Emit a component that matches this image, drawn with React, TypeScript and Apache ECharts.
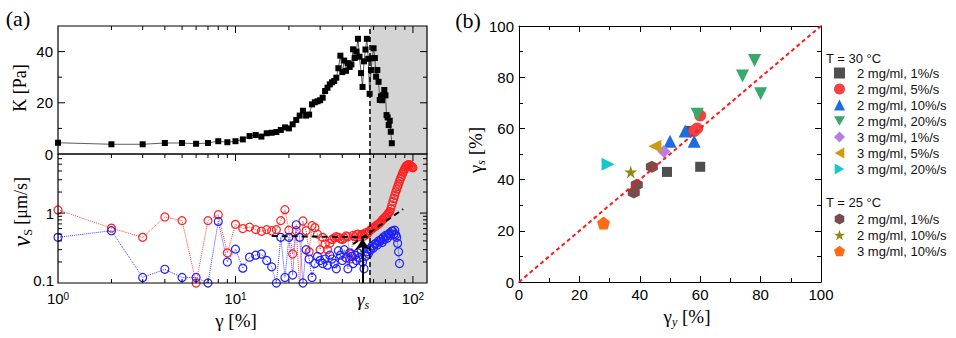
import React, { useEffect, useRef } from 'react';
import * as echarts from 'echarts';

// ---------- Panel (a), top: K vs gamma ----------
const K_GAMMA = [
  1, 2, 3, 4, 5, 6, 7, 8, 9, 10,
  11, 12, 13, 14, 15, 16, 17, 18, 19, 20,
  21, 22, 23, 24, 25, 26, 27, 28, 29, 30,
  31, 32, 33, 34, 35, 36, 37, 38, 39, 40,
  41, 42, 43, 44, 45, 46, 47, 48, 49, 50,
  51, 52, 53, 54, 55, 56, 57, 58, 59, 60,
  61, 62, 63, 64, 65, 66, 67, 68, 69, 70,
  71, 72, 73, 74, 75, 76,
];
const K_VALUES = [
  4.4, 3.8, 3.8, 4.3, 4.3, 4.0, 4.3, 5.0, 4.6, 5.0,
  5.7, 7.0, 7.4, 6.8, 8.1, 8.3, 8.6, 9.4, 10.4, 10.0,
  11.6, 13.3, 15.0, 16.9, 15.0, 15.4, 19.4, 20.2, 20.6, 21.0,
  22.0, 24.6, 25.9, 27.2, 28.0, 28.5, 29.8, 33.5, 38.4, 32.0,
  36.5, 32.5, 35.5, 34.0, 35.0, 40.9, 37.5, 40.0, 45.0, 38.0,
  31.6, 26.2, 36.2, 40.8, 45.0, 37.2, 23.5, 32.8, 37.4, 41.3,
  37.5, 30.2, 32.8, 28.2, 21.1, 22.5, 21.0, 23.0, 25.0, 22.9,
  15.2, 14.3, 11.3, 13.0, 8.7, 4.2,
];

// ---------- Panel (a), bottom: v_S vs gamma ----------
const RED_GAMMA = [
  1, 2, 3, 4, 5, 6, 7, 8, 9, 10,
  11, 12, 13, 14, 15, 16, 17, 18, 19, 20,
  21, 22, 23, 24, 25, 26, 27, 28, 29, 30,
  31, 32, 33, 34, 35, 36, 37, 38, 39, 40,
  41, 42, 43, 44, 45, 46, 47, 48, 49, 50,
  51, 52, 53, 54, 55, 56, 57, 58, 59, 60,
  61, 62, 63, 64, 65, 66, 67, 68, 69, 70,
  71, 72, 73, 74, 75, 76, 77, 78, 79, 80,
  81, 82, 83, 84, 85, 86, 87, 88, 89, 90,
  91, 92, 93, 94, 95, 96, 97, 98, 99, 100,
];
const RED_V = [
  1.11, 0.61, 0.45, 0.88, 0.78, 0.10, 0.78, 0.95, 0.27, 0.69,
  0.60, 0.63, 0.58, 0.55, 0.58, 0.56, 0.58, 0.78, 1.12, 0.57,
  0.26, 0.56, 0.09, 0.77, 0.56, 0.28, 0.66, 0.62, 0.50, 0.30,
  0.45, 0.36, 0.30, 0.37, 0.42, 0.44, 0.46, 0.45, 0.43, 0.42,
  0.44, 0.47, 0.46, 0.22, 0.26, 0.48, 0.46, 0.49, 0.50, 0.46,
  0.48, 0.50, 0.47, 0.52, 0.50, 0.53, 0.56, 0.58, 0.60, 0.62,
  0.64, 0.66, 0.68, 0.70, 0.72, 0.75, 0.79, 0.82, 0.85, 0.88,
  0.92, 0.96, 1.00, 1.05, 1.15, 1.30, 1.47, 1.62, 1.80, 2.00,
  2.20, 2.40, 2.60, 2.85, 3.10, 3.35, 3.60, 3.85, 4.10, 4.35,
  4.60, 4.75, 4.85, 4.90, 4.93, 4.90, 4.75, 4.60, 4.50, 4.45,
];
const BLUE_GAMMA = [
  1, 2, 3, 4, 5, 6, 7, 8, 9, 10,
  11, 12, 13, 14, 15, 16, 17, 18, 19, 20,
  21, 22, 23, 24, 25, 26, 27, 28, 29, 30,
  31, 32, 33, 34, 35, 36, 37, 38, 39, 40,
  41, 42, 43, 44, 45, 46, 47, 48, 49, 50,
  51, 52, 53, 54, 55, 56, 57, 58, 59, 60,
  61, 62, 63, 64, 65, 66, 67, 68, 69, 70,
  71, 72, 73, 74, 75, 76, 77, 78, 79, 80,
  81, 82, 83, 84,
];
const BLUE_V = [
  0.45, 0.56, 0.12, 0.157, 0.12, 0.12, 0.10, 0.76, 0.20, 0.305,
  0.163, 0.234, 0.25, 0.26, 0.21, 0.17, 0.10, 0.45, 0.12, 0.45,
  0.13, 0.68, 0.45, 0.10, 0.30, 0.22, 0.12, 0.19, 0.24, 0.21,
  0.19, 0.22, 0.18, 0.25, 0.22, 0.19, 0.16, 0.29, 0.25, 0.21,
  0.30, 0.23, 0.16, 0.27, 0.24, 0.19, 0.25, 0.21, 0.27, 0.23,
  0.30, 0.20, 0.16, 0.24, 0.28, 0.26, 0.31, 0.30, 0.34, 0.32,
  0.36, 0.37, 0.35, 0.40, 0.39, 0.42, 0.38, 0.45, 0.42, 0.48,
  0.47, 0.44, 0.50, 0.52, 0.48, 0.55, 0.55, 0.50, 0.57, 0.49,
  0.45, 0.37, 0.28, 0.19,
];
const PLATEAU_LINE = [[16, 0.47], [58, 0.45]];
const RISE_LINE = [[46, 0.36], [88, 1.14]];
const GAMMA_S = 57;
const X_MAX_A = 120;
const ARROW_LINE = [[52, 0.1], [52, 0.43]];

// tick positions
const LOG_X_TICKS = [2, 3, 4, 5, 6, 7, 8, 9, 10, 20, 30, 40, 50, 60, 70, 80, 90, 100];
const LOG_Y_TICKS = [0.2, 0.3, 0.4, 0.5, 0.6, 0.7, 0.8, 0.9, 1, 2, 3, 4, 5, 6];
const K_Y_TICKS = [10, 20, 30, 40];

// ---------- Panel (b): gamma_s vs gamma_y ----------
const T30_2MG_1 = [[49, 43], [60, 45], [57, 59]];
const T30_2MG_5 = [[60, 65], [59, 60], [58, 59]];
const T30_2MG_10 = [[50, 55], [55, 59], [58, 55]];
const T30_2MG_20 = [[78, 86.5], [74, 80.5], [80, 73.5], [59, 65.5]];
const T30_3MG_1 = [[48, 51]];
const T30_3MG_5 = [[45, 53]];
const T30_3MG_20 = [[29.5, 46]];
const T25_2MG_1 = [[44, 45], [39, 38], [38, 35]];
const T25_2MG_10 = [[37, 43]];
const T25_3MG_10 = [[28, 23]];
const DIAGONAL = [[0, 0], [100, 100]];

const FONT_SANS = '"Liberation Sans", Arial, Helvetica, sans-serif';
const FONT_SERIF = '"Liberation Serif", "Times New Roman", serif';

const SYM_DOWN = 'path://M0,0L100,0L50,87Z';
const SYM_LEFT = 'path://M87,0L87,100L0,50Z';
const SYM_RIGHT = 'path://M0,0L0,100L87,50Z';
const SYM_HEX = 'path://M50,0L93.3,25L93.3,75L50,100L6.7,75L6.7,25Z';
const SYM_PENT = 'path://M50,0L97.6,34.5L79.4,90.5L20.6,90.5L2.4,34.5Z';
const SYM_STAR =
  'path://M50,2L61.2,36.5L97.6,36.5L68.2,57.9L79.4,92.5L50,71.1L20.6,92.5L31.8,57.9L2.4,36.5L38.8,36.5Z';

const B_GROUPS = [
  { t: '30 °C', label: '2 mg/ml, 1%/s', data: T30_2MG_1, symbol: 'rect', size: 10, color: '#4f4f4f' },
  { t: '30 °C', label: '2 mg/ml, 5%/s', data: T30_2MG_5, symbol: 'circle', size: 12, color: '#f04242' },
  { t: '30 °C', label: '2 mg/ml, 10%/s', data: T30_2MG_10, symbol: 'triangle', size: 13, color: '#1c6ce0' },
  { t: '30 °C', label: '2 mg/ml, 20%/s', data: T30_2MG_20, symbol: SYM_DOWN, size: 13, color: '#37a96a' },
  { t: '30 °C', label: '3 mg/ml, 1%/s', data: T30_3MG_1, symbol: 'diamond', size: 13, color: '#b57ee4' },
  { t: '30 °C', label: '3 mg/ml, 5%/s', data: T30_3MG_5, symbol: SYM_LEFT, size: 13, color: '#cc9b12' },
  { t: '30 °C', label: '3 mg/ml, 20%/s', data: T30_3MG_20, symbol: SYM_RIGHT, size: 13, color: '#14c8cc' },
  { t: '25 °C', label: '2 mg/ml, 1%/s', data: T25_2MG_1, symbol: SYM_HEX, size: 12, color: '#7a4b4b' },
  { t: '25 °C', label: '2 mg/ml, 10%/s', data: T25_2MG_10, symbol: SYM_STAR, size: 13, color: '#8c8a14' },
  { t: '25 °C', label: '3 mg/ml, 10%/s', data: T25_3MG_10, symbol: SYM_PENT, size: 13, color: '#ff6a14' },
];

const pairs = (xs: number[], ys: number[]) => xs.map((x, i) => [x, ys[i]]);
const isPow10 = (v: number) => {
  const l = Math.log10(v);
  return Math.abs(l - Math.round(l)) < 1e-6;
};

function makeFrame(
  xTicks: number[],
  yTicks: number[],
  yRef: number,
  isMajorY: (v: number) => boolean,
  tickTop: boolean,
  tickBottom: boolean
) {
  return (params: any, api: any) => {
    const cs = params.coordSys;
    const x0 = cs.x;
    const y0 = cs.y;
    const x1 = cs.x + cs.width;
    const y1 = cs.y + cs.height;
    const st = { stroke: '#000', lineWidth: 1 };
    const ch: any[] = [];
    for (const v of xTicks) {
      const px = api.coord([v, yRef])[0];
      const len = isPow10(v) ? 7 : 4;
      if (tickTop) ch.push({ type: 'line', shape: { x1: px, y1: y0, x2: px, y2: y0 + len }, style: st });
      if (tickBottom) ch.push({ type: 'line', shape: { x1: px, y1: y1, x2: px, y2: y1 - len }, style: st });
    }
    for (const v of yTicks) {
      const py = api.coord([2, v])[1];
      const len = isMajorY(v) ? 7 : 4;
      ch.push({ type: 'line', shape: { x1: x0, y1: py, x2: x0 + len, y2: py }, style: st });
      ch.push({ type: 'line', shape: { x1: x1, y1: py, x2: x1 - len, y2: py }, style: st });
    }
    ch.push({
      type: 'rect',
      shape: { x: x0, y: y0, width: cs.width, height: cs.height },
      style: { fill: 'none', stroke: '#000', lineWidth: 1.2 },
    });
    return { type: 'group', children: ch };
  };
}

const shadeArea = {
  silent: true,
  itemStyle: { color: '#d4d4d4' },
  data: [[{ xAxis: GAMMA_S }, { xAxis: X_MAX_A }]],
};
const gammaSLine = {
  silent: true,
  symbol: 'none',
  label: { show: false },
  lineStyle: { color: '#000', type: [5, 3], width: 1.5 },
  data: [{ xAxis: GAMMA_S }],
};

const stripName = (name: string) => name.replace(/^\d+ °C: /, '');

function buildOption() {
  const bAxisCommon = {
    gridIndex: 2,
    type: 'value',
    min: 0,
    max: 100,
    interval: 20,
    axisLine: { show: true, onZero: false, lineStyle: { color: '#000', width: 1 } },
    axisTick: { show: true, inside: true, length: 6, lineStyle: { color: '#000' } },
    minorTick: { show: true, splitNumber: 2, length: 4, lineStyle: { color: '#000' } },
    splitLine: { show: false },
    minorSplitLine: { show: false },
  };
  const legendCommon = {
    orient: 'vertical',
    left: 834,
    padding: 0,
    itemWidth: 11,
    itemHeight: 11,
    itemGap: 2,
    selectedMode: false,
    formatter: stripName,
    textStyle: { fontSize: 13, fontFamily: FONT_SANS, color: '#111', lineHeight: 14, padding: [0, 0, 0, 7] },
  };
  const subRich = (mainSize: number, subSize: number, italicMain: boolean) => ({
    g: {
      fontFamily: FONT_SERIF,
      fontSize: mainSize,
      fontStyle: italicMain ? 'italic' : 'normal',
      lineHeight: mainSize + 4,
      fill: '#000',
      color: '#000',
    },
    s: {
      fontFamily: FONT_SERIF,
      fontSize: subSize,
      fontStyle: 'italic',
      lineHeight: subSize + 1,
      verticalAlign: 'bottom',
      fill: '#000',
      color: '#000',
    },
    t: {
      fontFamily: FONT_SERIF,
      fontSize: mainSize,
      lineHeight: mainSize + 4,
      fill: '#000',
      color: '#000',
    },
  });
  const txt = (x: number, y: number, text: string, font: string, rotation = 0, rich?: any) => ({
    type: 'text',
    x,
    y,
    rotation,
    silent: true,
    style: {
      text,
      font,
      fill: '#000',
      align: 'center',
      verticalAlign: 'middle',
      textAlign: 'center',
      textVerticalAlign: 'middle',
      ...(rich ? { rich } : {}),
    },
  });

  return {
    animation: false,
    grid: [
      { left: 58, top: 26, width: 369, height: 128, containLabel: false, outerBoundsMode: 'none' },
      { left: 58, top: 154, width: 369, height: 129, containLabel: false, outerBoundsMode: 'none' },
      { left: 519, top: 26, width: 302, height: 256, containLabel: false, outerBoundsMode: 'none' },
    ],
    xAxis: [
      {
        gridIndex: 0,
        type: 'log',
        logBase: 10,
        min: 1,
        max: X_MAX_A,
        axisLine: { show: false },
        axisTick: { show: false },
        axisLabel: { show: false },
        splitLine: { show: false },
      },
      {
        gridIndex: 1,
        type: 'log',
        logBase: 10,
        min: 1,
        max: X_MAX_A,
        axisLine: { show: false },
        axisTick: { show: false },
        splitLine: { show: false },
        axisLabel: {
          margin: 8,
          color: '#000',
          formatter: (v: number) => {
            if (!isPow10(v)) return '';
            return `{b|10}{e|${Math.round(Math.log10(v))}}`;
          },
          rich: {
            b: { fontSize: 15, fontFamily: FONT_SANS, lineHeight: 14, color: '#000' },
            e: { fontSize: 10, fontFamily: FONT_SANS, lineHeight: 6, verticalAlign: 'top', color: '#000' },
          },
        },
      },
      { ...bAxisCommon, position: 'bottom', axisLabel: { fontSize: 15, fontFamily: FONT_SANS, color: '#000', margin: 5 } },
      { ...bAxisCommon, position: 'top', axisLabel: { show: false } },
    ],
    yAxis: [
      {
        gridIndex: 0,
        type: 'value',
        min: 0,
        max: 50,
        interval: 10,
        axisLine: { show: false },
        axisTick: { show: false },
        splitLine: { show: false },
        axisLabel: {
          fontSize: 15,
          fontFamily: FONT_SANS,
          color: '#000',
          margin: 5,
          lineHeight: 12,
          formatter: (v: number) => (v % 20 === 0 && v <= 40 ? String(v) : ''),
        },
      },
      {
        gridIndex: 1,
        type: 'log',
        logBase: 10,
        min: 0.1,
        max: 7,
        axisLine: { show: false },
        axisTick: { show: false },
        splitLine: { show: false },
        axisLabel: {
          fontSize: 15,
          fontFamily: FONT_SANS,
          color: '#000',
          margin: 4,
          formatter: (v: number) => {
            const r = Math.round(v * 1000) / 1000;
            if (r === 0.1) return '{lo|0.1}';
            if (r === 1) return '1';
            return '';
          },
          rich: {
            lo: { fontSize: 15, fontFamily: FONT_SANS, color: '#000', lineHeight: 14, padding: [0, 0, 6, 0] },
          },
        },
      },
      { ...bAxisCommon, position: 'left', axisLabel: { fontSize: 15, fontFamily: FONT_SANS, color: '#000', margin: 5 } },
      { ...bAxisCommon, position: 'right', axisLabel: { show: false } },
    ],
    legend: [
      { ...legendCommon, top: 66, data: B_GROUPS.filter((g) => g.t === '30 °C').map((g) => `${g.t}: ${g.label}`) },
      { ...legendCommon, top: 212, data: B_GROUPS.filter((g) => g.t === '25 °C').map((g) => `${g.t}: ${g.label}`) },
    ],
    graphic: [
      txt(18, 18, '(a)', `22px ${FONT_SERIF}`),
      txt(468, 20, '(b)', `22px ${FONT_SERIF}`),
      txt(20, 88, 'K [Pa]', `18px ${FONT_SERIF}`, Math.PI / 2),
      txt(21, 212, '{v|ν}{s|S}{t| [μm/s]}', `18px ${FONT_SERIF}`, Math.PI / 2, {
        v: { fontFamily: FONT_SERIF, fontSize: 25, fontStyle: 'italic', lineHeight: 26, fill: '#000' },
        s: { fontFamily: FONT_SERIF, fontSize: 12, lineHeight: 12, verticalAlign: 'bottom', fill: '#000' },
        t: { fontFamily: FONT_SERIF, fontSize: 18, lineHeight: 26, fill: '#000' },
      }),
      txt(236, 320, '{g|γ}{t| [%]}', `19px ${FONT_SERIF}`, 0, subRich(19, 12, false)),
      txt(363, 299, '{g|γ}{s|s}', `19px ${FONT_SERIF}`, 0, subRich(19, 12, true)),
      txt(475, 150, '{g|γ}{s|s}{t| [%]}', `19px ${FONT_SERIF}`, Math.PI / 2, subRich(19, 12, false)),
      txt(687, 316, '{g|γ}{s|y}{t| [%]}', `19px ${FONT_SERIF}`, 0, subRich(19, 12, false)),
      {
        type: 'text',
        x: 826,
        y: 58,
        silent: true,
        style: { text: 'T = 30 °C', font: `13px ${FONT_SANS}`, fill: '#111', align: 'left', verticalAlign: 'middle', textAlign: 'left', textVerticalAlign: 'middle' },
      },
      {
        type: 'text',
        x: 826,
        y: 202,
        silent: true,
        style: { text: 'T = 25 °C', font: `13px ${FONT_SANS}`, fill: '#111', align: 'left', verticalAlign: 'middle', textAlign: 'left', textVerticalAlign: 'middle' },
      },
    ],
    series: [
      {
        type: 'line',
        name: 'K',
        xAxisIndex: 0,
        yAxisIndex: 0,
        data: pairs(K_GAMMA, K_VALUES),
        symbol: 'rect',
        symbolSize: 6,
        itemStyle: { color: '#000' },
        lineStyle: { color: '#333', width: 0.8 },
        markArea: shadeArea,
        markLine: gammaSLine,
        silent: true,
        z: 3,
      },
      {
        type: 'line',
        name: 'vS red',
        xAxisIndex: 1,
        yAxisIndex: 1,
        data: pairs(RED_GAMMA, RED_V),
        symbol: 'circle',
        symbolSize: 8,
        itemStyle: { color: 'rgba(255,255,255,0)', borderColor: '#ff2020', borderWidth: 1.2 },
        lineStyle: { color: '#ff3a3a', width: 1, type: 'dotted' },
        markArea: shadeArea,
        markLine: gammaSLine,
        silent: true,
        z: 3,
      },
      {
        type: 'line',
        name: 'vS blue',
        xAxisIndex: 1,
        yAxisIndex: 1,
        data: pairs(BLUE_GAMMA, BLUE_V),
        symbol: 'circle',
        symbolSize: 8,
        itemStyle: { color: 'rgba(255,255,255,0)', borderColor: '#2020ff', borderWidth: 1.2 },
        lineStyle: { color: '#3a3aff', width: 1, type: 'dotted' },
        silent: true,
        z: 3,
      },
      {
        type: 'line',
        name: 'plateau',
        xAxisIndex: 1,
        yAxisIndex: 1,
        data: PLATEAU_LINE,
        symbol: 'none',
        lineStyle: { color: '#000', width: 2, type: [6, 4] },
        silent: true,
        z: 5,
        markLine: {
          silent: true,
          symbol: ['none', 'arrow'],
          symbolSize: 11,
          label: { show: false },
          lineStyle: { color: '#000', width: 2, type: 'solid' },
          data: [[{ coord: ARROW_LINE[0] }, { coord: ARROW_LINE[1] }]],
        },
      },
      {
        type: 'line',
        name: 'rise',
        xAxisIndex: 1,
        yAxisIndex: 1,
        data: RISE_LINE,
        symbol: 'none',
        lineStyle: { color: '#000', width: 2, type: [6, 4] },
        silent: true,
        z: 5,
      },
      {
        type: 'custom',
        name: 'frameTop',
        xAxisIndex: 0,
        yAxisIndex: 0,
        data: [[1, 10]],
        silent: true,
        z: 10,
        renderItem: makeFrame(LOG_X_TICKS, K_Y_TICKS, 10, (v) => v % 20 === 0, true, false),
      },
      {
        type: 'custom',
        name: 'frameBottom',
        xAxisIndex: 1,
        yAxisIndex: 1,
        data: [[1, 1]],
        silent: true,
        z: 10,
        renderItem: makeFrame(LOG_X_TICKS, LOG_Y_TICKS, 1, (v) => isPow10(v), true, true),
      },
      ...B_GROUPS.map((g) => ({
        type: 'scatter',
        name: `${g.t}: ${g.label}`,
        xAxisIndex: 2,
        yAxisIndex: 2,
        data: g.data,
        symbol: g.symbol,
        symbolSize: g.size,
        itemStyle: { color: g.color, opacity: 1 },
        silent: true,
        z: 3,
      })),
      {
        type: 'line',
        name: 'diagonal',
        xAxisIndex: 2,
        yAxisIndex: 2,
        data: DIAGONAL,
        symbol: 'none',
        lineStyle: { color: '#ff1a1a', width: 2, type: [4, 3] },
        silent: true,
        z: 5,
      },
    ],
  };
}

export default function App() {
  const ref = useRef<HTMLDivElement>(null);
  useEffect(() => {
    document.body.style.margin = '0';
    const chart = echarts.init(ref.current as HTMLDivElement, null, { renderer: 'svg' });
    chart.setOption(buildOption() as any);
    return () => chart.dispose();
  }, []);
  return <div ref={ref} style={{ width: 956, height: 338 }} />;
}
